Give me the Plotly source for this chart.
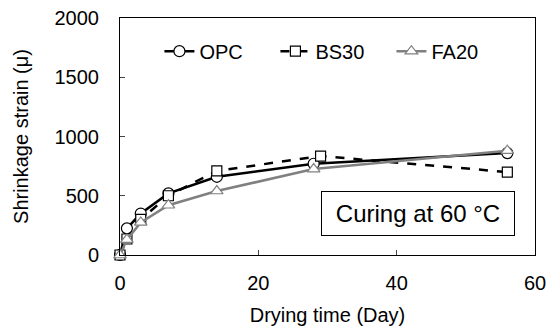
import plotly.graph_objects as go

days_opc = [0, 1, 3, 7, 14, 28, 56]
opc = [0, 225, 350, 520, 660, 770, 860]
days_bs = [0, 1, 3, 7, 14, 29, 56]
bs30 = [0, 135, 300, 500, 710, 835, 700]
days_fa = [0, 1, 3, 7, 14, 28, 56]
fa20 = [0, 130, 275, 420, 540, 725, 880]

FONT = "Liberation Sans, Arial, sans-serif"

fig = go.Figure()
fig.add_trace(go.Scatter(
    x=days_opc, y=opc, name="OPC", mode="lines+markers",
    line=dict(color="black", width=2.5),
    marker=dict(symbol="circle", size=11, color="white", line=dict(color="black", width=1.2)),
    cliponaxis=False))
fig.add_trace(go.Scatter(
    x=days_bs, y=bs30, name="BS30", mode="lines+markers",
    line=dict(color="black", width=2.5, dash="dash"),
    marker=dict(symbol="square", size=10, color="white", line=dict(color="black", width=1.2)),
    cliponaxis=False))
fig.add_trace(go.Scatter(
    x=days_fa, y=fa20, name="FA20", mode="lines+markers",
    line=dict(color="#808080", width=2.5),
    marker=dict(symbol="triangle-up", size=11, color="white", line=dict(color="#808080", width=1.2)),
    cliponaxis=False))

fig.update_layout(
    width=552, height=326,
    margin=dict(l=120, r=17, t=18, b=71, autoexpand=False),
    paper_bgcolor="white", plot_bgcolor="white",
    font=dict(family=FONT, size=20, color="black"),
    showlegend=True,
    legend=dict(orientation="h", x=0.095, y=0.86, xanchor="left", yanchor="middle",
                font=dict(size=20), bgcolor="rgba(0,0,0,0)", entrywidth=71,
                itemwidth=30, tracegroupgap=0),
    xaxis=dict(range=[0, 60], tickvals=[0, 20, 40, 60], ticks="inside", ticklen=5,
               showline=True, linecolor="black", linewidth=1, mirror=True,
               showgrid=False, zeroline=False, ticklabelstandoff=10, automargin=False,
               title=dict(text="Drying time (Day)", font=dict(size=20), standoff=15)),
    yaxis=dict(range=[0, 2000], tickvals=[0, 500, 1000, 1500, 2000], ticks="inside", ticklen=5,
               showline=True, linecolor="black", linewidth=1, mirror=True,
               showgrid=False, zeroline=False, ticklabelstandoff=16, automargin=False,
               title=dict(text="Shrinkage strain (μ)", font=dict(size=20), standoff=20)),
    annotations=[dict(xref="x", yref="y", x=43.1, y=350, text="Curing at 60 °C",
                      showarrow=False, font=dict(size=24), bordercolor="black",
                      borderwidth=1, borderpad=8, width=176, bgcolor="white")],
)

fig.write_html("out.html", config={"responsive": False, "displayModeBar": False},
               post_script="document.body.style.margin='0';document.body.style.padding='0';")
